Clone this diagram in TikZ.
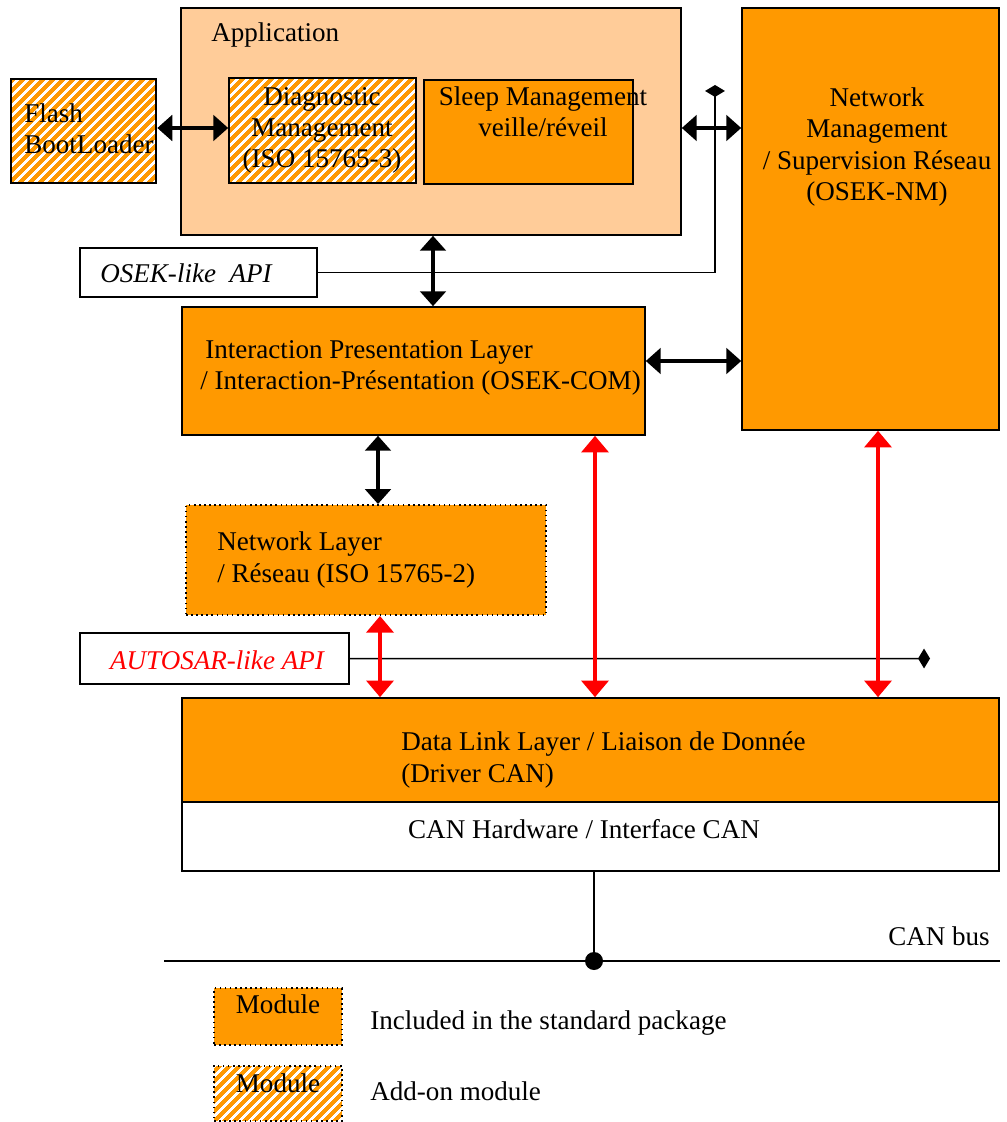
\documentclass[tikz,border=0pt]{standalone}
\usepackage{fontspec}
\setmainfont{Liberation Serif}
\usetikzlibrary{arrows.meta,patterns.meta,fit}
\definecolor{layerorange}{HTML}{FF9900}
\definecolor{applight}{HTML}{FFCC99}

\begin{document}
\begin{tikzpicture}[x=0.2mm, y=-0.2mm,
	every node/.style={inner sep=0pt, font=\fontsize{15.4}{17.8}\selectfont},
	layer/.style={draw=black, line width=0.9pt, fill=layerorange},
	addon/.style={draw=black, line width=0.9pt, preaction={fill=layerorange},
		pattern={Lines[angle=45, distance=4pt, line width=1.5pt]}, pattern color=white},
	apibox/.style={draw=black, line width=0.9pt, fill=white},
	apitext/.style={font=\fontsize{15.4}{17.8}\selectfont\itshape},
	dotbox/.style={dotted, line width=1.1pt},
	link/.style={{Triangle[length=8.5pt, width=14.5pt]}-{Triangle[length=8.5pt, width=14.5pt]}, line width=2.3pt},
	redlink/.style={{Triangle[length=9.5pt, width=15.3pt]}-{Triangle[length=9.5pt, width=15.3pt]}, line width=2.4pt, color=red},
	apiline/.style={-{Diamond[length=6.8pt, width=11.3pt]}, line width=0.85pt}
	]
	\useasboundingbox (0,0) rectangle (1006,1122);
	%Application:
	\node[fit={(181,8) (681,235)}, draw=black, line width=0.9pt, fill=applight] (app) {};
	\node[anchor=west] (applabel) at (211,35) {Application};
	\node[addon, fit={(11,79) (156,183)}] (flash) {};
	\node[anchor=west, align=left] (flashlabel) at (24,128.5) {Flash\\BootLoader};
	\node[addon, fit={(229,78) (416,183)}] (diag) {};
	\node[align=center] (diaglabel) at (322,130.5) {Diagnostic\\Management\\(ISO 15765-3)};
	\node[layer, fit={(424,80) (633,184)}] (sleep) {};
	\node[align=center] (sleeplabel) at (543,112) {Sleep Management\\veille/réveil};
	%Network management:
	\node[layer, fit={(742,8) (999,430)}] (nm) {};
	\node[align=center] (nmlabel) at (877,147) {Network\\Management\\/ Supervision Réseau\\(OSEK-NM)};
	%Com and network layers:
	\node[apibox, fit={(80,248) (317,297)}] (osek) {};
	\node[apitext] (oseklabel) at (186,273) {OSEK-like\ \ API};
	\node[layer, fit={(182,307) (645,435)}] (inter) {};
	\node[anchor=west, text width=100mm, align=left] (interlabel) at (200,368) {\spaceskip=0pt\relax\hspace*{1mm}Interaction Presentation Layer\\/ Interaction-Présentation (OSEK-COM)};
	\node[layer, dotbox, fit={(186,505) (546,615)}] (netlayer) {};
	\node[anchor=west, align=left] (netlabel) at (217,560) {Network Layer\\/ Réseau (ISO 15765-2)};
	\node[apibox, fit={(80,633) (349,684)}] (autosar) {};
	\node[apitext, text=red] (autosarlabel) at (217,660) {AUTOSAR-like API};
	%Driver and hardware:
	\node[layer, fit={(182,698) (999,802)}] (dll) {};
	\node[anchor=west, text width=100mm, align=left] (dlllabel) at (401,760) {\spaceskip=0pt\relax Data Link Layer / Liaison de Donnée\\(Driver CAN)};
	\node[apibox, fit={(182,802) (999,871)}] (canhw) {};
	\node (canhwlabel) at (584,829) {CAN Hardware / Interface CAN};
	%CAN bus:
	\coordinate (buswest) at (164,961);
	\coordinate (buseast) at (1000,961);
	\node[circle, fill=black, minimum size=3.6mm] (busjoint) at (594,961) {};
	\node (buslabel) at (939,936) {CAN bus};
	\draw[line width=0.85pt] (buswest) -- (buseast);
	\draw[line width=0.85pt] (canhw.south -| busjoint) -- (busjoint);
	%Legend:
	\node[layer, dotbox, fit={(214,988) (342,1045)}] (legstd) {};
	\node (legstdlabel) at (278,1004) {Module};
	\node[anchor=west] (legstdtext) at (370,1023) {Included in the standard package};
	\node[addon, dotbox, fit={(214,1066) (342,1121)}] (legaddon) {};
	\node (legaddonlabel) at (278,1083) {Module};
	\node[anchor=west] (legaddontext) at (370,1091) {Add-on module};
	%API lines:
	\coordinate (osektop) at (715,85);
	\coordinate (autosarend) at (930,658.5);
	\draw[apiline] (osek.east) -| (osektop);
	\draw[apiline] (autosar.east) -- (autosarend);
	%Black arrows:
	\coordinate (toprow) at (0,128);
	\coordinate (comrow) at (0,361);
	\coordinate (appx) at (433,0);
	\coordinate (netx) at (378,0);
	\draw[link] (flash.east |- toprow) -- (diag.west |- toprow);
	\draw[link] (app.east |- toprow) -- (nm.west |- toprow);
	\draw[link] (app.south -| appx) -- (inter.north -| appx);
	\draw[link] (inter.east |- comrow) -- (nm.west |- comrow);
	\draw[link] (inter.south -| netx) -- (netlayer.north -| netx);
	%Red arrows:
	\coordinate (dllx1) at (380,0);
	\coordinate (dllx2) at (595,0);
	\coordinate (dllx3) at (878,0);
	\draw[redlink] (netlayer.south -| dllx1) -- (dll.north -| dllx1);
	\draw[redlink] (inter.south -| dllx2) -- (dll.north -| dllx2);
	\draw[redlink] (nm.south -| dllx3) -- (dll.north -| dllx3);
\end{tikzpicture}
\end{document}
